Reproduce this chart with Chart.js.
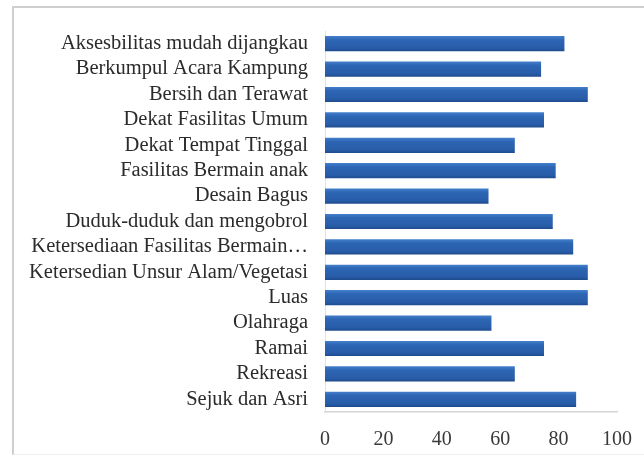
<!DOCTYPE html>
<html>
<head>
<meta charset="utf-8">
<script src="https://cdn.jsdelivr.net/npm/chart.js@4"></script>
<style>
  html, body { margin: 0; padding: 0; background: #fff; }
  #frame { position: absolute; left: 12px; top: 6px; width: 700px; height: 446px;
           border-left: 2px solid #cfcfcf; border-top: 2px solid #cfcfcf; border-bottom: 1px solid #eeeeee; }
  #wrap { position: absolute; left: 0; top: 0; width: 644px; height: 459px; }
</style>
</head>
<body>
<div id="frame"></div>
<div id="wrap"><canvas id="chart" width="644" height="459"></canvas></div>
<script>
const categories = [
  'Aksesbilitas mudah dijangkau',
  'Berkumpul Acara Kampung',
  'Bersih dan Terawat',
  'Dekat Fasilitas Umum',
  'Dekat Tempat Tinggal',
  'Fasilitas Bermain anak',
  'Desain Bagus',
  'Duduk-duduk dan mengobrol',
  'Ketersediaan Fasilitas Bermain…',
  'Ketersedian Unsur Alam/Vegetasi',
  'Luas',
  'Olahraga',
  'Ramai',
  'Rekreasi',
  'Sejuk dan Asri'
];
const values = [82, 74, 90, 75, 65, 79, 56, 78, 85, 90, 90, 57, 75, 65, 86];
const xTicks = [0, 20, 40, 60, 80, 100];

// excel-ish shaded bar
function barFill(ctx) {
  const chart = ctx.chart;
  const y = chart.scales.y;
  if (!y || y.getPixelForValue === undefined) return '#2c64b2';
  const yc = y.getPixelForValue(ctx.dataIndex);
  if (!isFinite(yc)) return '#2c64b2';
  const g = chart.ctx.createLinearGradient(0, yc - 7.6, 0, yc + 7.6);
  g.addColorStop(0, '#447fcc');
  g.addColorStop(0.25, '#2d66b4');
  g.addColorStop(0.8, '#285ca8');
  g.addColorStop(1, '#1e4b8c');
  return g;
}

const ctx = document.getElementById('chart').getContext('2d');
new Chart(ctx, {
  type: 'bar',
  data: {
    labels: categories,
    datasets: [{
      data: values,
      backgroundColor: barFill,
      borderWidth: 0,
      barPercentage: 0.6,
      categoryPercentage: 1
    }]
  },
  options: {
    indexAxis: 'y',
    responsive: false,
    animation: false,
    layout: { padding: { left: 0, right: 27, top: 31, bottom: 0 } },
    plugins: { legend: { display: false }, tooltip: { enabled: false } },
    scales: {
      x: {
        min: 0, max: 100,
        afterBuildTicks: (s) => { s.ticks = xTicks.map(v => ({ value: v })); },
        grid: { display: false, drawTicks: false },
        border: { display: true, color: '#d4d4d4', width: 1.5 },
        ticks: {
          padding: 16,
          color: '#3a3a3a',
          font: { family: '"Liberation Serif", "Times New Roman", serif', size: 20 }
        },
        afterFit: (s) => { s.height = 459 - 412; s.paddingLeft = 0; s.paddingRight = 0; }
      },
      y: {
        grid: { display: false, drawTicks: false },
        border: { display: true, color: '#e2e2e2', width: 1 },
        ticks: {
          padding: 17,
          color: '#2b2b2b',
          autoSkip: false,
          font: { family: '"Liberation Serif", "Times New Roman", serif', size: 20.5 }
        },
        afterFit: (s) => { s.width = 325; }
      }
    }
  }
});
</script>
</body>
</html>
